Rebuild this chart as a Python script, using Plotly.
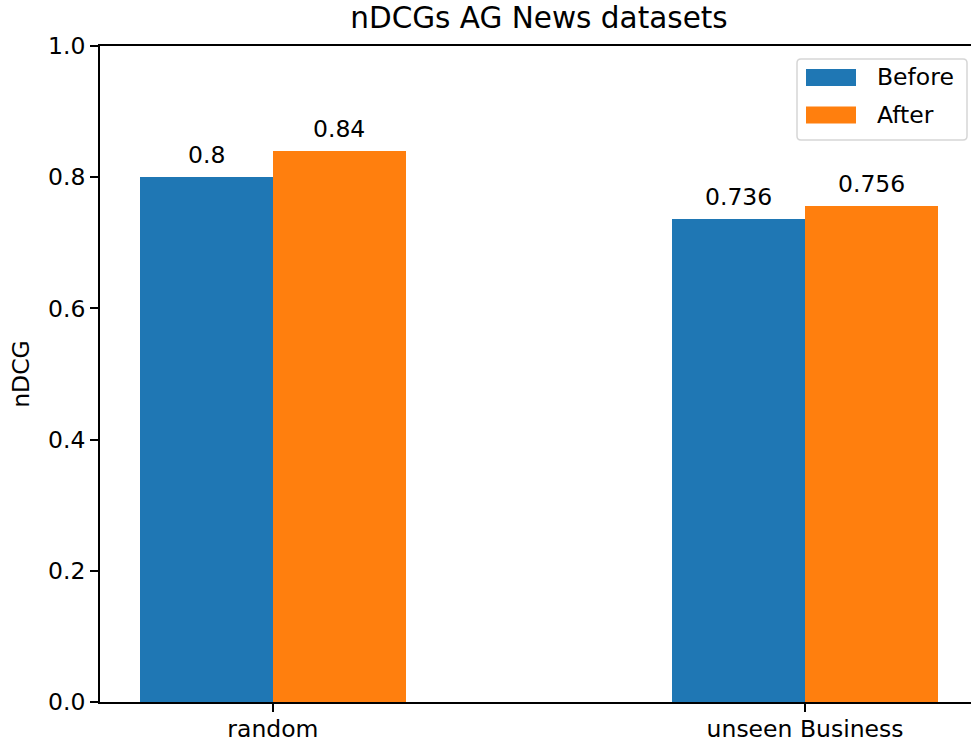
import plotly.graph_objects as go

categories = ["random", "unseen Business"]
before_vals = [0.8, 0.736]
after_vals = [0.84, 0.756]
series_names = ["Before", "After"]
y_ticks = [0.0, 0.2, 0.4, 0.6, 0.8, 1.0]

BLUE = "#1f77b4"
ORANGE = "#ff7f0e"
FONT = "DejaVu Sans"
FS = 23.5
TFS = 29.5
W, H = 971, 742
ML, MR, MT, MB = 100, 0, 46, 40
PW, PH = W - ML - MR, H - MT - MB

def px(x):
    return (x - ML) / PW

def py(y):
    return (H - MB - y) / PH

bw = 0.25
xpos = list(range(len(categories)))
x_before = [i - bw / 2 for i in xpos]
x_after = [i + bw / 2 for i in xpos]

fig = go.Figure()
fig.add_trace(go.Bar(x=x_before, y=before_vals, width=bw, name=series_names[0],
                     marker=dict(color=BLUE, line=dict(width=0)), showlegend=False))
fig.add_trace(go.Bar(x=x_after, y=after_vals, width=bw, name=series_names[1],
                     marker=dict(color=ORANGE, line=dict(width=0)), showlegend=False))

annotations = []
for xs, vals in ((x_before, before_vals), (x_after, after_vals)):
    for x, v in zip(xs, vals):
        annotations.append(dict(x=x, y=v, xref="x", yref="y", text=f"{v:g}",
                                showarrow=False, yanchor="bottom", yshift=6,
                                font=dict(family=FONT, size=FS, color="black")))

# manual legend (matplotlib style)
x0, x1, y0, y1 = 797, 967, 59, 140
r = 4
path = (f"M {px(x0 + r)},{py(y0)} L {px(x1 - r)},{py(y0)} "
        f"Q {px(x1)},{py(y0)} {px(x1)},{py(y0 + r)} L {px(x1)},{py(y1 - r)} "
        f"Q {px(x1)},{py(y1)} {px(x1 - r)},{py(y1)} L {px(x0 + r)},{py(y1)} "
        f"Q {px(x0)},{py(y1)} {px(x0)},{py(y1 - r)} L {px(x0)},{py(y0 + r)} "
        f"Q {px(x0)},{py(y0)} {px(x0 + r)},{py(y0)} Z")
shapes = [dict(type="path", path=path, xref="paper", yref="paper",
               line=dict(color="#d6d6d6", width=1.5), fillcolor="rgba(255,255,255,0.8)", layer="above")]
for i, (name, col) in enumerate(zip(series_names, [BLUE, ORANGE])):
    cy = 77.5 + i * 37.5
    shapes.append(dict(type="rect", xref="paper", yref="paper",
                       x0=px(806), x1=px(856), y0=py(cy - 8.5), y1=py(cy + 8.5),
                       fillcolor=col, line=dict(width=0), layer="above"))
    annotations.append(dict(x=px(875), y=py(cy), xref="paper", yref="paper", text=name,
                            showarrow=False, xanchor="left", yanchor="middle",
                            font=dict(family=FONT, size=FS, color="black")))

fig.update_layout(
    width=W, height=H,
    margin=dict(l=ML, r=MR, t=MT, b=MB, autoexpand=False),
    plot_bgcolor="white", paper_bgcolor="white",
    font=dict(family=FONT, size=FS, color="black"),
    title=dict(text="nDCGs AG News datasets", x=px(539), xref="paper", xanchor="center",
               y=1 - 18 / H, yref="container", yanchor="middle",
               font=dict(family=FONT, size=TFS, color="black")),
    xaxis=dict(range=[-0.325, 1.325 - (978 - W) / 532.3], tickvals=xpos, ticktext=categories,
               showgrid=False, zeroline=False, showline=True, linecolor="black", linewidth=1.8,
               mirror=True, ticks="outside", ticklen=8, tickcolor="black", tickwidth=1.8,
               ticklabelstandoff=-3, automargin=False,
               tickfont=dict(family=FONT, size=FS, color="black")),
    yaxis=dict(range=[0, 1], tickvals=y_ticks, ticktext=[f"{t:.1f}" for t in y_ticks],
               showgrid=False, zeroline=False, showline=True, linecolor="black", linewidth=1.8,
               ticks="outside", ticklen=8, tickcolor="black", tickwidth=1.8, automargin=False,
               tickfont=dict(family=FONT, size=FS, color="black"),
               title=dict(text="nDCG", standoff=12, font=dict(family=FONT, size=FS, color="black"))),
    annotations=annotations,
    shapes=shapes,
    bargap=0,
)

fig.write_html("out.html", config={"displayModeBar": False},
               post_script="document.body.style.margin='0';document.body.style.overflow='hidden';")
